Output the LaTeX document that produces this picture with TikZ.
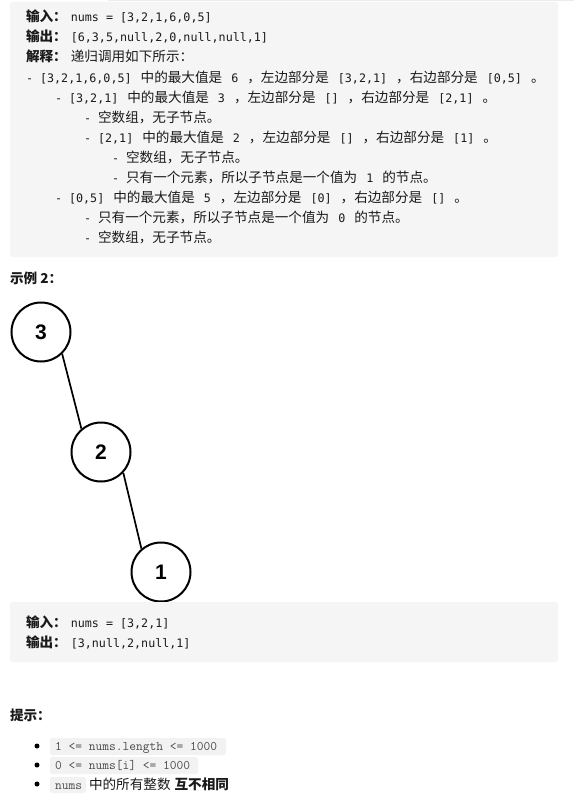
\documentclass[tikz,border=0pt]{standalone}
\usepackage{fontspec}
\setmainfont{Noto Sans CJK SC}
\newfontfamily\codef{DejaVu Sans Mono}
\newfontfamily\numf{Liberation Sans}
\newfontfamily\chipf{Latin Modern Mono}
\definecolor{txtc}{HTML}{1A1A1A}
\definecolor{boxc}{HTML}{F5F5F5}
\definecolor{chipc}{HTML}{F2F2F2}
\definecolor{chiptxt}{HTML}{4A4A4A}
\definecolor{topline}{HTML}{ECECEC}
\newcommand\m[1]{{\codef\fontsize{11.7}{14}\selectfont #1}}
\newcommand\gp{\hspace{9pt}}
\tikzset{
  txt/.style={anchor=base west, inner sep=0pt, outer sep=0pt, text=txtc, font=\fontsize{13.6}{16}\selectfont},
  panel/.style={fill=boxc, draw=none, rounded corners=3pt},
  chip/.style={fill=chipc, draw=none, rounded corners=2.5pt},
  chiptext/.style={anchor=base west, inner sep=0pt, text=chiptxt, font=\chipf\fontsize{13.1}{15}\selectfont},
  tnode/.style={circle, draw=black, line width=2pt, fill=white, minimum size=59pt, inner sep=0pt, font=\numf\bfseries\fontsize{21}{24}\selectfont},
  edge/.style={draw=black, line width=1.7pt},
  bullet/.style={circle, fill=black, inner sep=0pt, minimum size=5pt}
}
\begin{document}
\begin{tikzpicture}[x=1pt, y=-1pt]
\useasboundingbox (0,0) rectangle (574,800);
\fill[white] (0,0) rectangle (574,800);
\fill[topline] (108,0) rectangle (574,1.5);
% panel 1
\path[panel] (10,2) rectangle (558,257);
\node[txt] (l1) at (26,22) {\textbf{输入：}\hspace{4pt}\m{nums = [3,2,1,6,0,5]}};
\node[txt] (l2) at (26,42) {\textbf{输出：}\hspace{4pt}\m{[6,3,5,null,2,0,null,null,1]}};
\node[txt] (l3) at (26,62) {\textbf{解释：}\hspace{4pt}递归调用如下所示：};
\node[txt] (l4) at (26,82) {\m{- [3,2,1,6,0,5]}\gp 中的最大值是\gp\m{6}\gp ，左边部分是\gp\m{[3,2,1]}\gp ，右边部分是\gp\m{[0,5]}\gp 。};
\node[txt] (l5) at (55,102) {\m{- [3,2,1]}\gp 中的最大值是\gp\m{3}\gp ，左边部分是\gp\m{[]}\gp ，右边部分是\gp\m{[2,1]}\gp 。};
\node[txt] (l6) at (84,122) {\m{- }空数组，无子节点。};
\node[txt] (l7) at (84,142) {\m{- [2,1]}\gp 中的最大值是\gp\m{2}\gp ，左边部分是\gp\m{[]}\gp ，右边部分是\gp\m{[1]}\gp 。};
\node[txt] (l8) at (112,162) {\m{- }空数组，无子节点。};
\node[txt] (l9) at (112,182) {\m{- }只有一个元素，所以子节点是一个值为\gp\m{1}\gp 的节点。};
\node[txt] (l10) at (55,202) {\m{- [0,5]}\gp 中的最大值是\gp\m{5}\gp ，左边部分是\gp\m{[0]}\gp ，右边部分是\gp\m{[]}\gp 。};
\node[txt] (l11) at (84,222) {\m{- }只有一个元素，所以子节点是一个值为\gp\m{0}\gp 的节点。};
\node[txt] (l12) at (84,242) {\m{- }空数组，无子节点。};
% example 2
\node[txt] (ex2) at (10,283) {\textbf{示例 2：}};
\node[tnode] (n3) at (41,332) {3};
\node[tnode] (n2) at (101,452) {2};
\node[tnode] (n1) at (161,572) {1};
\draw[edge] (n3.-46) -- (n2.130);
\draw[edge] (n2.-43) -- (n1.130);
% panel 2
\path[panel] (10,602) rectangle (558,662);
\node[txt] (m1) at (26,627) {\textbf{输入：}\hspace{4pt}\m{nums = [3,2,1]}};
\node[txt] (m2) at (26,647) {\textbf{输出：}\hspace{4pt}\m{[3,null,2,null,1]}};
% hints
\node[txt] (hint) at (10,720) {\textbf{提示：}};
\node[bullet] (b1) at (37,746) {};
\node[bullet] (b2) at (37,765) {};
\node[bullet] (b3) at (37,784) {};
\path[chip] (50,738) rectangle (226,755);
\path[chip] (50,757) rectangle (198,774);
\path[chip] (50,777) rectangle (86,793);
\node[chiptext] (c1) at (55,750.5) {1 <= nums.length <= 1000};
\node[chiptext] (c2) at (55,769.5) {0 <= nums[i] <= 1000};
\node[chiptext] (c3) at (55,789) {nums};
\node[txt] (c3t) at (89,789) {中的所有整数\hspace{4pt}\textbf{互不相同}};
\end{tikzpicture}
\end{document}
